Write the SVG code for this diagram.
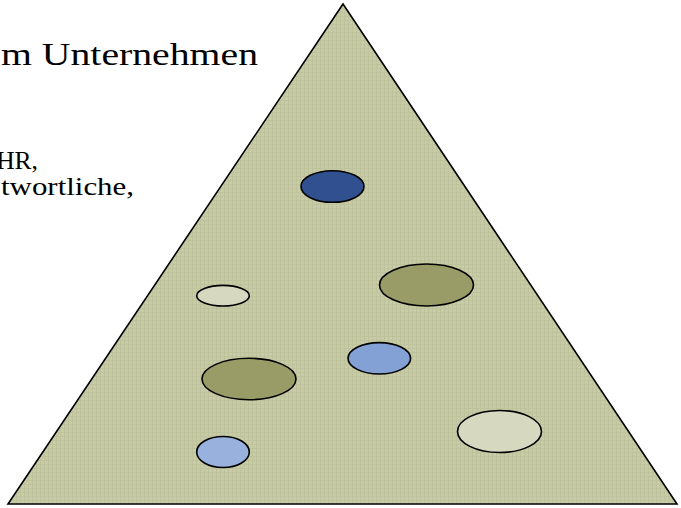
<svg xmlns="http://www.w3.org/2000/svg" width="681" height="508" viewBox="0 0 681 508">
<style>
.t{font-family:"Liberation Serif","Times New Roman",serif;fill:#000}
.e{stroke:#000;stroke-width:1.6}
</style>
<defs>
<pattern id="p" width="4" height="4" patternUnits="userSpaceOnUse">
<rect width="4" height="4" fill="#c8cba7"/>
<rect width="1" height="4" fill="#bfc39c"/>
<rect width="4" height="1" fill="#bfc39c"/>
</pattern>
</defs>
<rect width="681" height="508" fill="#fff"/>
<g id="text">
<text class="t" x="1" y="65" font-size="32" textLength="257" lengthAdjust="spacingAndGlyphs">m Unternehmen</text>
<text class="t" x="38" y="169" font-size="25.5" text-anchor="end">HR,</text>
<text class="t" x="1" y="195" font-size="25.5" textLength="133" lengthAdjust="spacingAndGlyphs">twortliche,</text>
</g>
<g id="pyramid">
<polygon points="343,4 677,504 8,504" fill="url(#p)" stroke="#000" stroke-width="1.6"/>
</g>
<g id="nodes">
<ellipse id="n1" class="e" cx="332.5" cy="186.5" rx="31.5" ry="15.8" fill="#30508f"/>
<ellipse id="n2" class="e" cx="426.5" cy="285" rx="47" ry="21" fill="#9a9c68"/>
<ellipse id="n3" class="e" cx="223" cy="295.7" rx="26.3" ry="10.3" fill="#d6d8c0"/>
<ellipse id="n4" class="e" cx="379.3" cy="358.3" rx="31.3" ry="15.7" fill="#84a1d5"/>
<ellipse id="n5" class="e" cx="249" cy="379" rx="47" ry="20.7" fill="#9a9c68"/>
<ellipse id="n6" class="e" cx="499.5" cy="431.5" rx="42" ry="21" fill="#d6d8c0"/>
<ellipse id="n7" class="e" cx="223" cy="452" rx="26.3" ry="15.5" fill="#99b1dd"/>
</g>
<g id="connectors"></g>
</svg>
